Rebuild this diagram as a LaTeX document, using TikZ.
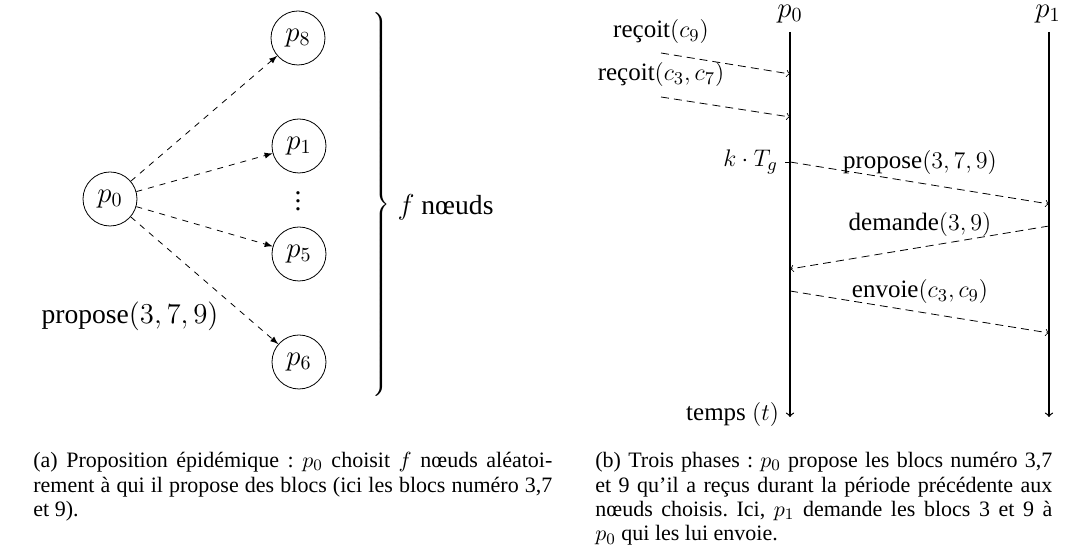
\documentclass[tikz,border=0pt]{standalone}
\usepackage[no-math]{fontspec}
\setmainfont{Liberation Serif}
\usepackage{amsmath}
\usetikzlibrary{positioning}

\tikzset{
    noeud/.style={circle, draw, minimum size=27pt, inner sep=0pt},
    propo/.style={dashed, -latex},
    ligne/.style={semithick, ->},
    msg/.style={dash pattern=on 4pt off 2.5pt, ->},
    legende/.style={anchor=north west, inner sep=0pt, text width=#1,
        align=justify, font=\fontsize{11}{12.2}\selectfont\frenchspacing},
    grand/.style={font=\fontsize{13.8}{16}\selectfont},
    moyen/.style={font=\fontsize{12.5}{15}\selectfont},
    titre/.style={inner sep=1pt, font=\fontsize{14.5}{17}\selectfont},
}

\begin{document}
\begin{tikzpicture}[x=0.5pt,y=-0.5pt]
    \useasboundingbox (0,0) rectangle (1073,560);
    % (a) proposition epidemique
    \begin{scope}[grand]
        \node[noeud] (p0) at (110,199) {$p_0$};
        \node[noeud] (p8) at (298,38) {$p_8$};
        \node[noeud] (p1) at (299,146) {$p_1$};
        \node (pts) at (298,195) {$\vdots$};
        \node[noeud] (p5) at (299,254) {$p_5$};
        \node[noeud] (p6) at (299,362) {$p_6$};
        \foreach \n in {p8,p1,p5,p6}
            \draw[propo] (p0) -- (\n);
        \node (prop) at (130,316) {propose$(3,7,9)$};
        \node[inner sep=0pt, font=\fontsize{10}{12}\selectfont] (accol) at (380,207)
            {$\left.\vrule height 95.5pt depth 95.5pt width 0pt\right\}$};
        \node[right=0pt of accol] (nb) {$f$ nœuds};
    \end{scope}
    % (b) trois phases
    \begin{scope}[moyen]
        \node[titre] (lp0) at (790,14) {$p_0$};
        \node[titre] (lp1) at (1048,14) {$p_1$};
        \coordinate (h0) at (790,32);
        \coordinate (b0) at (790,417);
        \coordinate (h1) at (1049,32);
        \coordinate (b1) at (1049,417);
        \draw[ligne] (h0) -- (b0);
        \draw[ligne] (h1) -- (b1);
        \node (rc9) at (661,32) {reçoit$(c_9)$};
        \node (rc37) at (661,75) {reçoit$(c_3,c_7)$};
        \coordinate (s1) at (661,53);
        \coordinate (r1) at (790,74);
        \coordinate (s2) at (661,97);
        \coordinate (r2) at (790,117);
        \draw[msg] (s1) -- (r1);
        \draw[msg] (s2) -- (r2);
        \coordinate (e1) at (790,162);
        \coordinate (a1) at (1049,204);
        \coordinate (e2) at (1049,226);
        \coordinate (a2) at (790,269);
        \coordinate (e3) at (790,291);
        \coordinate (a3) at (1049,333);
        \node[anchor=east] (ktg) at (785,162) {$k\cdot T_g$};
        \draw (ktg.east) -- (e1);
        \draw[msg] (e1) -- (a1);
        \draw[msg] (e2) -- (a2);
        \draw[msg] (e3) -- (a3);
        \node (lprop) at (920,163) {propose$(3,7,9)$};
        \node (ldem) at (920,225) {demande$(3,9)$};
        \node (lenv) at (920,292) {envoie$(c_3,c_9)$};
        \node[anchor=east] (temps) at (786,415) {temps $(t)$};
    \end{scope}
    % legendes
    \node[legende=259.5pt] (capa) at (33,452)
        {(a) Proposition épidémique : $p_0$ choisit $f$ nœuds aléatoi-\linebreak
        rement à qui il propose des blocs (ici les blocs numéro 3,7\linebreak
        et 9).};
    \node[legende=228.5pt] (capb) at (595,452)
        {(b) Trois phases : $p_0$ propose les blocs numéro 3,7\linebreak
        et 9 qu'il a reçus durant la période précédente aux\linebreak
        nœuds choisis. Ici, $p_1$ demande les blocs 3 et 9 à\linebreak
        $p_0$ qui les lui envoie.};
\end{tikzpicture}
\end{document}
